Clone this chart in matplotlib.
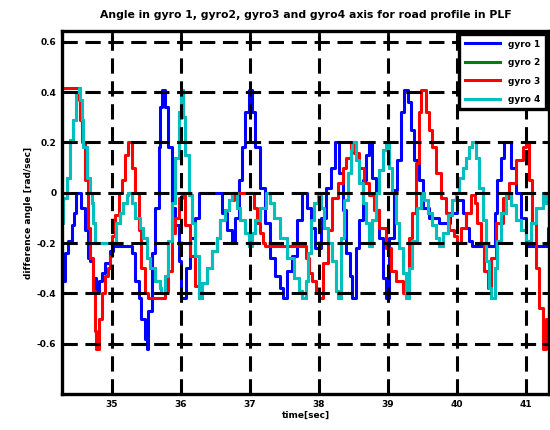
import matplotlib
matplotlib.use("Agg")
import matplotlib.pyplot as plt

# gyro 1 (blue)
gyro1_t = [34.28, 34.32, 34.37, 34.42, 34.45, 34.49, 34.53, 34.56, 34.61, 34.65,
           34.69, 34.73, 34.77, 34.81, 34.86, 34.90, 34.98, 35.02, 35.27, 35.29,
           35.34, 35.39, 35.43, 35.48, 35.51, 35.53, 35.58, 35.63, 35.68, 35.70,
           35.73, 35.77, 35.82, 35.87, 35.92, 35.97, 36.01, 36.08, 36.14, 36.21,
           36.26, 36.53, 36.60, 36.67, 36.74, 36.79, 36.84, 36.89, 36.94, 36.99,
           37.03, 37.08, 37.15, 37.23, 37.30, 37.37, 37.44, 37.49, 37.54, 37.61,
           37.69, 37.76, 37.83, 37.89, 37.95, 38.03, 38.11, 38.18, 38.24, 38.30,
           38.35, 38.40, 38.45, 38.49, 38.54, 38.59, 38.64, 38.69, 38.73, 38.78,
           38.83, 38.88, 38.93, 38.98, 39.02, 39.10, 39.14, 39.19, 39.24, 39.29,
           39.34, 39.39, 39.46, 39.51, 39.60, 39.75, 39.90, 40.01, 40.09, 40.14,
           40.18, 40.23, 40.50, 40.55, 40.59, 40.64, 40.69, 40.72, 40.79, 40.86,
           40.93, 41.00, 41.03, 41.27, 41.32, 41.34]
gyro1_v = [-0.35, -0.24, -0.19, -0.13, -0.08, 0.0, 0.0, -0.06, -0.15, -0.26,
           -0.27, -0.34, -0.39, -0.35, -0.32, -0.28, -0.23, -0.21, -0.21, -0.24,
           -0.35, -0.42, -0.50, -0.58, -0.62, -0.47, -0.24, -0.06, 0.18, 0.34,
           0.41, 0.34, 0.18, -0.06, -0.13, -0.27, -0.42, -0.30, -0.18, -0.10,
           0.0, 0.0, -0.08, -0.15, -0.20, -0.10, 0.05, 0.18, 0.32, 0.41,
           0.32, 0.18, 0.02, -0.12, -0.26, -0.33, -0.38, -0.42, -0.31, -0.25,
           -0.11, 0.0, -0.06, -0.14, -0.22, -0.10, 0.02, 0.10, 0.20, 0.08,
           -0.07, -0.24, -0.33, -0.42, -0.22, -0.11, 0.05, 0.15, 0.20, 0.06,
           -0.07, -0.18, -0.34, -0.42, -0.18, 0.01, 0.13, 0.32, 0.41, 0.36,
           0.25, 0.13, 0.05, -0.06, -0.10, -0.12, -0.08, -0.03, -0.08, -0.14,
           -0.19, -0.21, -0.21, -0.08, 0.05, 0.14, 0.20, 0.20, 0.10, 0.0,
           -0.10, -0.19, -0.21, -0.21, -0.14, -0.14]

# gyro 3 (red)
gyro3_t = [34.28, 34.49, 34.52, 34.54, 34.57, 34.61, 34.66, 34.69, 34.73, 34.76,
           34.78, 34.82, 34.86, 34.90, 34.95, 34.98, 35.00, 35.05, 35.10, 35.15,
           35.19, 35.24, 35.29, 35.34, 35.39, 35.43, 35.48, 35.52, 35.72, 35.77,
           35.82, 35.87, 35.92, 35.97, 36.02, 36.07, 36.14, 36.21, 36.26, 36.31,
           36.38, 36.45, 36.53, 36.57, 36.65, 36.70, 36.77, 37.01, 37.06, 37.11,
           37.15, 37.20, 37.23, 37.76, 37.81, 37.86, 37.91, 37.96, 38.00, 38.06,
           38.13, 38.20, 38.28, 38.35, 38.40, 38.47, 38.52, 38.59, 38.66, 38.73,
           38.81, 38.88, 38.98, 39.05, 39.12, 39.22, 39.27, 39.31, 39.36, 39.41,
           39.46, 39.49, 39.56, 39.60, 39.65, 39.70, 39.77, 39.85, 39.89, 39.97,
           40.00, 40.06, 40.14, 40.21, 40.26, 40.30, 40.35, 40.40, 40.45, 40.50,
           40.57, 40.67, 40.76, 40.86, 40.96, 41.00, 41.05, 41.10, 41.15, 41.20,
           41.25, 41.29, 41.34]
gyro3_v = [0.416, 0.416, 0.37, 0.29, 0.20, 0.05, -0.14, -0.26, -0.39, -0.55,
           -0.62, -0.50, -0.40, -0.33, -0.30, -0.25, -0.17, -0.09, 0.0, 0.05,
           0.15, 0.20, 0.10, 0.0, -0.15, -0.30, -0.40, -0.42, -0.42, -0.39,
           -0.31, -0.16, -0.10, -0.02, 0.0, -0.13, -0.25, -0.37, -0.42, -0.36,
           -0.30, -0.23, -0.18, -0.11, -0.07, -0.03, 0.0, 0.0, -0.06, -0.12,
           -0.16, -0.20, -0.21, -0.21, -0.26, -0.32, -0.35, -0.39, -0.42, -0.28,
           -0.15, -0.02, 0.04, 0.10, 0.14, 0.20, 0.16, 0.10, 0.04, -0.01,
           -0.07, -0.14, -0.22, -0.31, -0.35, -0.40, -0.35, -0.18, -0.08, 0.12,
           0.32, 0.41, 0.32, 0.25, 0.18, 0.08, -0.02, -0.08, -0.15, -0.17,
           -0.20, -0.14, -0.08, -0.01, -0.04, -0.12, -0.20, -0.31, -0.38, -0.26,
           -0.12, -0.02, 0.04, 0.13, 0.18, 0.20, 0.05, -0.12, -0.30, -0.46,
           -0.62, -0.50, -0.43]

# gyro 4 (cyan)
gyro4_t = [34.28, 34.30, 34.35, 34.40, 34.445, 34.49, 34.52, 34.54, 34.565, 34.59,
           34.64, 34.69, 34.71, 34.73, 34.76, 35.02, 35.07, 35.12, 35.17, 35.22,
           35.24, 35.29, 35.34, 35.41, 35.46, 35.51, 35.56, 35.63, 35.70, 35.72,
           35.77, 35.82, 35.87, 35.92, 35.97, 36.01, 36.04, 36.07, 36.12, 36.16,
           36.21, 36.26, 36.31, 36.38, 36.45, 36.53, 36.57, 36.65, 36.70, 36.74,
           36.82, 36.86, 36.94, 36.99, 37.03, 37.08, 37.15, 37.24, 37.30, 37.35,
           37.44, 37.54, 37.64, 37.71, 37.76, 37.81, 37.84, 37.89, 37.94, 37.99,
           38.03, 38.08, 38.13, 38.20, 38.25, 38.28, 38.32, 38.37, 38.42, 38.47,
           38.49, 38.54, 38.59, 38.64, 38.69, 38.73, 38.78, 38.83, 38.88, 38.93,
           38.98, 39.02, 39.07, 39.12, 39.17, 39.22, 39.26, 39.31, 39.36, 39.43,
           39.48, 39.53, 39.58, 39.65, 39.70, 39.75, 39.80, 39.87, 39.94, 39.99,
           40.04, 40.09, 40.14, 40.18, 40.23, 40.28, 40.33, 40.38, 40.43, 40.47,
           40.50, 40.55, 40.59, 40.64, 40.71, 40.79, 40.86, 40.93, 41.00, 41.08,
           41.15, 41.25, 41.29, 41.34]
gyro4_v = [-0.12, -0.02, 0.06, 0.21, 0.29, 0.40, 0.416, 0.37, 0.29, 0.18,
           0.06, 0.0, -0.04, -0.12, -0.20, -0.20, -0.12, -0.08, -0.04, -0.01,
           0.0, -0.04, -0.10, -0.14, -0.18, -0.26, -0.30, -0.35, -0.38, -0.40,
           -0.33, -0.19, -0.04, 0.14, 0.32, 0.41, 0.30, 0.15, -0.01, -0.12,
           -0.25, -0.42, -0.36, -0.30, -0.23, -0.18, -0.11, -0.07, -0.03, 0.0,
           -0.06, -0.11, -0.16, -0.21, -0.16, -0.11, -0.06, 0.0, -0.04, -0.10,
           -0.18, -0.26, -0.34, -0.39, -0.42, -0.35, -0.24, -0.11, -0.04, 0.0,
           -0.06, -0.14, -0.20, -0.27, -0.39, -0.42, -0.18, -0.03, 0.08, 0.17,
           0.20, 0.13, 0.04, -0.04, -0.12, -0.21, -0.11, 0.0, 0.09, 0.17,
           0.20, 0.10, 0.0, -0.12, -0.22, -0.32, -0.42, -0.30, -0.19, -0.06,
           0.0, -0.03, -0.08, -0.13, -0.18, -0.21, -0.16, -0.09, -0.03, 0.0,
           0.06, 0.10, 0.14, 0.18, 0.20, 0.14, 0.02, -0.11, -0.27, -0.38,
           -0.42, -0.30, -0.19, -0.08, 0.0, -0.05, -0.11, -0.15, -0.19, -0.12,
           -0.06, 0.0, -0.04, -0.09]

# gyro 2 (green) lies underneath gyro 4 in the picture
gyro2_t = gyro4_t
gyro2_v = gyro4_v

xticks = [35, 36, 37, 38, 39, 40, 41]
yticks = [-0.6, -0.4, -0.2, 0, 0.2, 0.4, 0.6]
ytick_labels = ["-0.6", "-0.4", "-0.2", "0", "0.2", "0.4", "0.6"]

fig = plt.figure(figsize=(5.5, 4.3), dpi=100)
ax = fig.add_axes([62 / 550, 1 - 394 / 430, 487 / 550, 363 / 430])

lw = 2.2
ax.plot(gyro1_t, gyro1_v, color="#0000ff", lw=lw, drawstyle="steps-post", label="gyro 1")
ax.plot(gyro2_t, gyro2_v, color="#008000", lw=lw, drawstyle="steps-post", label="gyro 2")
ax.plot(gyro3_t, gyro3_v, color="#ff0000", lw=lw, drawstyle="steps-post", label="gyro 3")
ax.plot(gyro4_t, gyro4_v, color="#00bfbf", lw=lw, drawstyle="steps-post", label="gyro 4")

ax.set_xlim(34.28, 41.34)
ax.set_ylim(-0.8, 0.643)
ax.set_xticks(xticks)
ax.set_yticks(yticks)
ax.set_yticklabels(ytick_labels)

ax.set_axisbelow(False)
ax.grid(True, color="black", lw=2.2, linestyle=(0, (5, 2.5)))

for s in ax.spines.values():
    s.set_linewidth(2.4)
ax.tick_params(direction="in", length=5, width=2, top=True, right=True,
               labelsize=6.5, pad=4)
for lab in ax.get_xticklabels() + ax.get_yticklabels():
    lab.set_fontweight("bold")

ax.set_title("Angle in gyro 1, gyro2, gyro3 and gyro4 axis for road profile in PLF",
             fontsize=7.8, fontweight="bold", pad=9)
ax.set_xlabel("time[sec]", fontsize=6.5, fontweight="bold", labelpad=2)
ax.set_ylabel("difference angle [rad/sec]", fontsize=6.5, fontweight="bold", labelpad=3)

leg = ax.legend(loc="upper right", fancybox=False, framealpha=1,
                edgecolor="black", handlelength=3.9, handletextpad=0.9,
                borderaxespad=0.35, borderpad=0.6, labelspacing=1.05,
                prop={"weight": "bold", "size": 6.5})
leg.get_frame().set_linewidth(2.4)

fig.savefig("out.png", dpi=100)
